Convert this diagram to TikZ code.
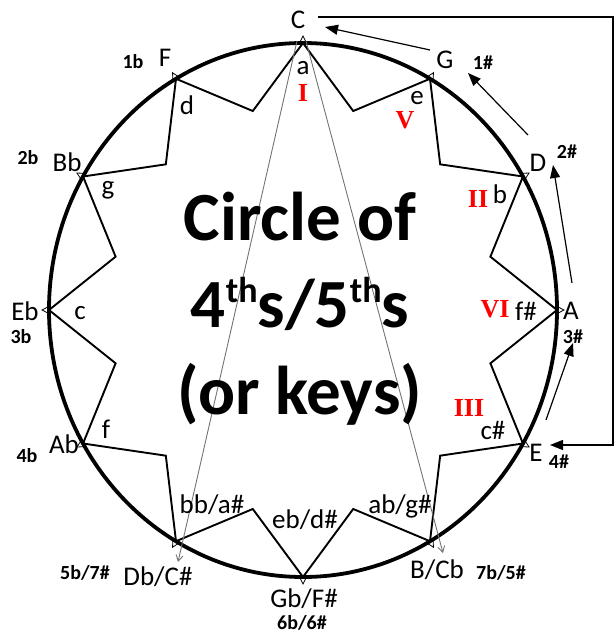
\documentclass[tikz,border=0pt]{standalone}
\usepackage{fontspec}
\setmainfont{Carlito}
\newfontfamily\romfont{Liberation Serif}
\usetikzlibrary{arrows.meta,calc}
\begin{document}
\begin{tikzpicture}[x=1pt,y=-1pt,
  keylab/.style={inner sep=0pt, font=\fontsize{27}{27}\selectfont},
  minlab/.style={inner sep=0pt, font=\fontsize{27}{27}\selectfont},
  acclab/.style={inner sep=0pt, font=\bfseries\fontsize{20}{20}\selectfont},
  romlab/.style={inner sep=0pt, text=red, font=\romfont\bfseries\fontsize{26}{26}\selectfont},
  titlelab/.style={inner sep=0pt, anchor=base, font=\bfseries\fontsize{69}{69}\selectfont},
  arr/.style={line width=1.2pt, -{Triangle[length=13pt,width=10pt]}},
  garr/.style={black!55, line width=0.9pt, -{Straight Barb[length=6pt,width=7pt]}},
  zig/.style={line width=1.9pt, line join=miter},
  tri/.style={line width=0.8pt},
]
\useasboundingbox (0,0) rectangle (616,635);
\coordinate (O) at (303,310);
% key points on the circle
\foreach \n/\a in {kC/-90, kG/-60, kD/-30, kA/0, kE/30, kB/60, kGb/90, kDb/120, kAb/150, kEb/180, kBb/210, kF/240}
  \coordinate (\n) at ([shift={(O)}]\a:254 and 267);
% inner valleys
\foreach \i in {0,...,11} {
  \pgfmathsetmacro\ang{-75+30*\i}
  \coordinate (v\i) at ([shift={(O)}]\ang:194 and 206);
}
% circle
\draw[line width=3.8pt] (O) ellipse [x radius=254, y radius=267];
% zigzag star
\draw[zig] (kC) -- (v0) -- (kG) -- (v1) -- (kD) -- (v2) -- (kA) -- (v3) -- (kE) -- (v4) -- (kB) -- (v5) -- (kGb) -- (v6) -- (kDb) -- (v7) -- (kAb) -- (v8) -- (kEb) -- (v9) -- (kBb) -- (v10) -- (kF) -- (v11) -- cycle;
% small triangles at key points
\foreach \a in {-90,-60,-30,0,30,60,90,120,150,180,210,240} {
  \pgfmathsetmacro\am{\a-0.9}
  \pgfmathsetmacro\ap{\a+0.9}
  \draw[tri] ([shift={(O)}]\a:261 and 274) -- ([shift={(O)}]\am:253 and 266) -- ([shift={(O)}]\ap:253 and 266) -- cycle;
}
% grey arrows from C
\coordinate (g1s) at (297,41);
\coordinate (g1e) at (178,562);
\coordinate (g2s) at (306,41);
\coordinate (g2e) at (443,553);
\draw[garr] (g1s) -- (g1e);
\draw[garr] (g2s) -- (g2e);
% title
\node[titlelab] (t1) at (300,240) {Circle of};
\node[titlelab] (t2) at (300,327) {4\raisebox{25pt}{\fontsize{36}{36}\selectfont th}s/5\raisebox{25pt}{\fontsize{36}{36}\selectfont th}s};
\node[titlelab] (t3) at (300,414) {(or keys)};
% key labels
\node[keylab] (lC) at (298,20) {C};
\node[keylab] (lG) at (445,60) {G};
\node[keylab] (lD) at (538,163) {D};
\node[keylab] (lA) at (571,311) {A};
\node[keylab] (lE) at (536,453) {E};
\node[keylab] (lB) at (437,570) {B/Cb};
\node[keylab] (lGb) at (304,599) {Gb/F\#};
\node[keylab] (lDb) at (158,577) {Db/C\#};
\node[keylab] (lAb) at (64,444) {Ab};
\node[keylab] (lEb) at (25,311) {Eb};
\node[keylab] (lBb) at (67,162) {Bb};
\node[keylab] (lF) at (165,58) {F};
% accidentals
\node[acclab] (n1b) at (133,62) {1b};
\node[acclab] (n1s) at (483,63) {1\#};
\node[acclab] (n2b) at (28,158) {2b};
\node[acclab] (n2s) at (567,152) {2\#};
\node[acclab] (n3b) at (21,337) {3b};
\node[acclab] (n3s) at (573,337) {3\#};
\node[acclab] (n4b) at (27,456) {4b};
\node[acclab] (n4s) at (559,462) {4\#};
\node[acclab] (n5b) at (85,573) {5b/7\#};
\node[acclab] (n6b) at (302,623) {6b/6\#};
\node[acclab] (n7b) at (501,573) {7b/5\#};
% minor keys
\node[minlab] (ma) at (303,68) {a};
\node[minlab] (me) at (417,98) {e};
\node[minlab] (mb) at (500,194) {b};
\node[minlab] (mfs) at (526,311) {f\#};
\node[minlab] (mcs) at (493,430) {c\#};
\node[minlab] (mgs) at (400,506) {ab/g\#};
\node[minlab] (mds) at (305,520) {eb/d\#};
\node[minlab] (mas) at (212,505) {bb/a\#};
\node[minlab] (mf) at (106,429) {f};
\node[minlab] (mc) at (80,313) {c};
\node[minlab] (mg) at (108,190) {g};
\node[minlab] (md) at (187,105) {d};
% roman numerals
\node[romlab] (rI) at (303,93) {I};
\node[romlab] (rV) at (405,120) {V};
\node[romlab] (rII) at (478,199) {II};
\node[romlab] (rVI) at (495,309) {VI};
\node[romlab] (rIII) at (469,408) {III};
% black arrows around the circle
\coordinate (aGs) at (430,50);
\coordinate (aGe) at (325,27);
\coordinate (aDs) at (528,135);
\coordinate (aDe) at (468,73);
\coordinate (aAs) at (572,283);
\coordinate (aAe) at (553,165);
\coordinate (aEs) at (546,420);
\coordinate (aEe) at (573,343);
\coordinate (bs) at (318,17);
\coordinate (b1) at (613,17);
\coordinate (b2) at (613,445);
\coordinate (be) at (550,445);
\draw[arr] (aGs) -- (aGe);
\draw[arr] (aDs) -- (aDe);
\draw[arr] (aAs) -- (aAe);
\draw[arr] (aEs) -- (aEe);
\draw[arr] (bs) -- (b1) -- (b2) -- (be);
\end{tikzpicture}
\end{document}
